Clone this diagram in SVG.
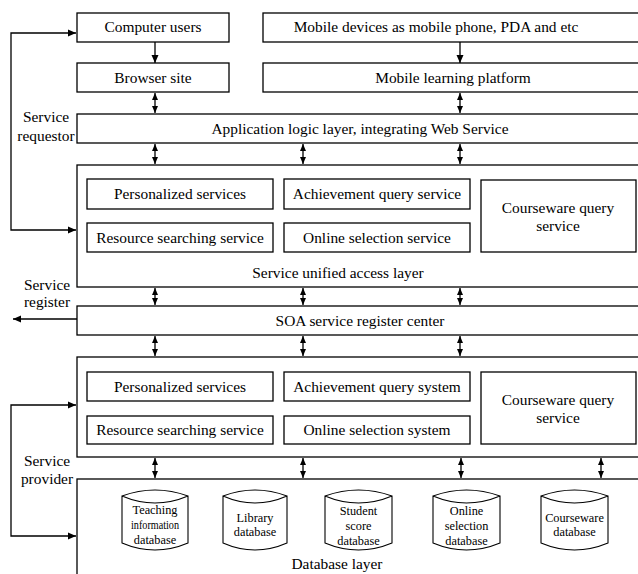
<svg xmlns="http://www.w3.org/2000/svg" width="638" height="574" viewBox="0 0 638 574">
<defs>
<marker id="ah" viewBox="0 0 8 8" refX="8" refY="4" markerWidth="8" markerHeight="8" markerUnits="userSpaceOnUse" orient="auto-start-reverse">
<path d="M0,0.5 L8,4 L0,7.5 Z" fill="#000"/>
</marker>
<marker id="ahs" viewBox="0 0 7 7" refX="7" refY="3.5" markerWidth="7" markerHeight="7" markerUnits="userSpaceOnUse" orient="auto-start-reverse">
<path d="M0,0.5 L7,3.5 L0,6.5 Z" fill="#000"/>
</marker>
</defs>
<style>
rect{fill:#fff;stroke:#000;stroke-width:1.3}
.cyl{fill:#fff;stroke:#000;stroke-width:1.1}
text{font-family:"Liberation Serif","Times New Roman",serif;font-size:15.4px;fill:#000;text-anchor:middle}
.sm{font-size:12.3px}
.c{fill:none;stroke:#000;stroke-width:1.3}
.d{fill:none;stroke:#000;stroke-width:1.3;marker-start:url(#ahs);marker-end:url(#ahs)}
.s{fill:none;stroke:#000;stroke-width:1.3;marker-end:url(#ah)}
.b{fill:none;stroke:#000;stroke-width:1.3;marker-start:url(#ah);marker-end:url(#ah)}
</style>
<g id="labels">
<text x="46" y="122">Service</text>
<text x="46" y="141">requestor</text>
<text x="47" y="290">Service</text>
<text x="47" y="307">register</text>
<text x="47" y="466">Service</text>
<text x="47" y="484">provider</text>
</g>
<g id="computer-users"><rect x="77" y="13" width="152" height="29"/><text x="153" y="32">Computer users</text></g>
<g id="mobile-devices"><rect x="263" y="13" width="400" height="29"/><text x="436" y="32">Mobile devices as mobile phone, PDA and etc</text></g>
<g id="browser-site"><rect x="77" y="63" width="152" height="29"/><text x="153" y="83">Browser site</text></g>
<g id="mobile-learning"><rect x="263" y="63" width="400" height="29"/><text x="453" y="83">Mobile learning platform</text></g>
<g id="app-logic"><rect x="77" y="114" width="570" height="29"/><text x="360" y="134">Application logic layer, integrating Web Service</text></g>
<g id="service-unified">
<rect x="77" y="165" width="570" height="122"/>
<text x="338" y="278">Service unified access layer</text>
<g id="su-personalized"><rect x="87" y="179" width="186" height="30"/><text x="180" y="199">Personalized services</text></g>
<g id="su-achievement"><rect x="284" y="179" width="186" height="30"/><text x="377" y="199">Achievement query service</text></g>
<g id="su-resource"><rect x="87" y="223" width="186" height="29"/><text x="180" y="243">Resource searching service</text></g>
<g id="su-online"><rect x="284" y="223" width="186" height="29"/><text x="377" y="243">Online selection service</text></g>
<g id="su-courseware"><rect x="481" y="180" width="155" height="72"/><text x="558" y="213">Courseware query</text><text x="558" y="231">service</text></g>
</g>
<g id="soa"><rect x="77" y="306" width="570" height="29"/><text x="360" y="326">SOA service register center</text></g>
<g id="provider">
<rect x="77" y="357" width="570" height="100"/>
<g id="sp-personalized"><rect x="87" y="372" width="186" height="29"/><text x="180" y="392">Personalized services</text></g>
<g id="sp-achievement"><rect x="284" y="372" width="186" height="29"/><text x="377" y="392">Achievement query system</text></g>
<g id="sp-resource"><rect x="87" y="416" width="186" height="28"/><text x="180" y="435">Resource searching service</text></g>
<g id="sp-online"><rect x="284" y="416" width="186" height="28"/><text x="377" y="435">Online selection system</text></g>
<g id="sp-courseware"><rect x="481" y="372" width="155" height="72"/><text x="558" y="405">Courseware query</text><text x="558" y="423">service</text></g>
</g>
<g id="database-layer">
<rect x="77" y="479" width="570" height="120"/>
<text x="337" y="569">Database layer</text>
<g id="db-teaching"><path class="cyl" d="M122,496 Q155,484 188,496 L188,543 Q155,557 122,543 Z M122,496 Q155,510 188,496"/>
<text class="sm" x="155" y="514">Teaching</text><text class="sm" x="155" y="529" textLength="48" lengthAdjust="spacingAndGlyphs">information</text><text class="sm" x="155" y="544">database</text></g>
<g id="db-library"><path class="cyl" d="M223,496 Q255,484 287,496 L287,543 Q255,557 223,543 Z M223,496 Q255,510 287,496"/>
<text class="sm" x="255" y="522">Library</text><text class="sm" x="255" y="536">database</text></g>
<g id="db-student"><path class="cyl" d="M325,496 Q358.5,484 392,496 L392,543 Q358.5,557 325,543 Z M325,496 Q358.5,510 392,496"/>
<text class="sm" x="358.5" y="515">Student</text><text class="sm" x="358.5" y="530">score</text><text class="sm" x="358.5" y="545">database</text></g>
<g id="db-online"><path class="cyl" d="M433,496 Q466.5,484 500,496 L500,543 Q466.5,557 433,543 Z M433,496 Q466.5,510 500,496"/>
<text class="sm" x="466.5" y="515">Online</text><text class="sm" x="466.5" y="530">selection</text><text class="sm" x="466.5" y="545">database</text></g>
<g id="db-courseware"><path class="cyl" d="M541,496 Q574.5,484 608,496 L608,543 Q574.5,557 541,543 Z M541,496 Q574.5,510 608,496"/>
<text class="sm" x="574.5" y="522">Courseware</text><text class="sm" x="574.5" y="536">database</text></g>
</g>
<g id="connectors">
<path class="s" d="M155,42 V63"/>
<path class="s" d="M460,42 V63"/>
<path class="d" d="M155,93 V113"/>
<path class="d" d="M460,93 V113"/>
<path class="d" d="M155,144 V164"/>
<path class="d" d="M303,144 V164"/>
<path class="d" d="M460,144 V164"/>
<path class="d" d="M155,288 V305"/>
<path class="d" d="M303,288 V305"/>
<path class="d" d="M460,288 V305"/>
<path class="d" d="M155,336 V356"/>
<path class="d" d="M303,336 V356"/>
<path class="d" d="M460,336 V356"/>
<path class="d" d="M155,458 V478"/>
<path class="d" d="M303,458 V478"/>
<path class="d" d="M461,458 V478"/>
<path class="d" d="M601,458 V478"/>
<path class="b" d="M76,230 H11 V33 H76"/>
<path class="s" d="M77,319 H13"/>
<path class="b" d="M76,405 H11 V536 H76"/>
</g>
</svg>
